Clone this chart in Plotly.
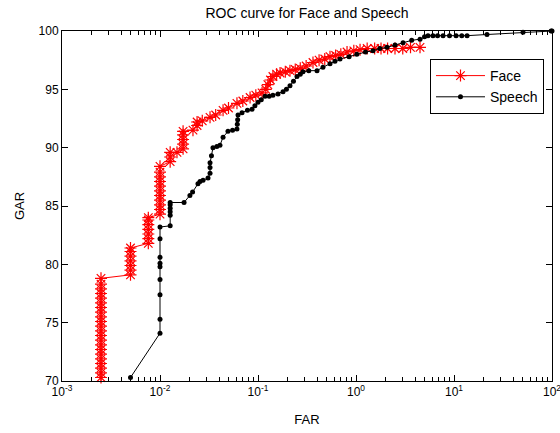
import plotly.graph_objects as go

# ---- data ----
face_far = ([0.0025] * 23 + [0.005] * 7 + [0.0076] * 7 + [0.01] * 11 + [0.0127] * 3 +
            [0.0149] + [0.0172] * 5 + [0.0217, 0.0239, 0.0239, 0.027, 0.0324, 0.037, 0.044,
             0.05, 0.061, 0.07, 0.083, 0.095, 0.11, 0.12, 0.126, 0.134, 0.142, 0.155,
             0.168, 0.19, 0.212, 0.24, 0.27, 0.31, 0.364, 0.42, 0.48, 0.543, 0.62, 0.70,
             0.81, 0.95, 1.1, 1.3, 1.55, 1.8, 2.1, 2.5, 3.0, 3.6, 4.5])
face_gar = [69.7, 70.3, 70.7, 71.1, 71.5, 71.9, 72.3, 72.7, 73.1, 73.5, 73.9, 74.3, 74.7,
            75.1, 75.5, 75.9, 76.3, 76.7, 77.1, 77.5, 77.9, 78.3, 78.8,
            79.1, 79.5, 79.9, 80.3, 80.7, 81.1, 81.4,
            81.8, 82.2, 82.6, 83.0, 83.4, 83.8, 84.0,
            84.3, 84.7, 85.1, 85.5, 85.9, 86.3, 86.7, 87.1, 87.5, 87.9, 88.4,
            88.8, 89.2, 89.6,
            89.6,
            89.9, 90.3, 90.7, 91.1, 91.4,
            91.5, 91.9, 92.2, 92.3, 92.6, 92.8, 93.2, 93.4, 93.8, 94.0, 94.3, 94.5, 94.7,
            95.0, 95.4, 95.8, 96.1, 96.3, 96.4, 96.5, 96.6, 96.7, 96.8, 97.0, 97.3, 97.5,
            97.6, 97.8, 97.9, 98.0, 98.2, 98.3, 98.4, 98.5, 98.5, 98.5, 98.5, 98.5, 98.5,
            98.6, 98.6]

speech_far = [0.005,
              0.01, 0.01, 0.01, 0.01, 0.01, 0.01, 0.01, 0.01, 0.01,
              0.0127, 0.0127, 0.0127, 0.0127, 0.0127, 0.0127,
              0.0176, 0.0202, 0.0215, 0.0244, 0.0256, 0.0275, 0.0309, 0.0324, 0.0324, 0.0324,
              0.0335, 0.0347, 0.038, 0.0409, 0.044, 0.0494, 0.055, 0.061, 0.0615, 0.062,
              0.0625, 0.0687, 0.078, 0.0869, 0.093, 0.1, 0.108, 0.118, 0.13, 0.142, 0.16,
              0.18, 0.195, 0.212, 0.23, 0.25, 0.27, 0.288, 0.33, 0.40, 0.46, 0.543, 0.61,
              0.687, 0.85, 1.02, 1.25, 1.49, 1.75, 2.07, 2.5, 3.02, 3.7, 4.5, 5.0, 5.43,
              6.1, 6.8, 7.73, 9.0, 10.5, 12.0, 13.6, 21.7, 50.6, 98, 100]
speech_gar = [70.3,
              74.1, 75.3, 77.4, 78.7, 79.8, 80.1, 80.6, 82.2, 83.2,
              83.3, 84.2, 84.5, 84.8, 85.1, 85.3,
              85.3, 85.9, 86.2, 86.9, 87.1, 87.2, 87.4, 87.8, 88.3, 88.7,
              89.3, 90.0, 90.1, 90.2, 90.9, 91.4, 91.5, 91.6, 92.0, 92.4,
              92.8, 93.0, 93.2, 93.3, 93.6, 93.9, 94.1, 94.4, 94.4, 94.5, 94.6,
              94.8, 95.0, 95.3, 95.7, 96.1, 96.3, 96.5, 96.6, 96.6, 96.9, 97.2, 97.4,
              97.6, 97.8, 98.0, 98.2, 98.3, 98.5, 98.6, 98.8, 99.0, 99.2, 99.3, 99.5, 99.6,
              99.6, 99.6, 99.6, 99.6, 99.6, 99.6, 99.6, 99.7, 99.9, 100, 100]

x_tickvals = [0.001, 0.01, 0.1, 1, 10, 100]
x_ticktext = ["10<sup>-3</sup>", "10<sup>-2</sup>", "10<sup>-1</sup>",
              "10<sup>0</sup>", "10<sup>1</sup>", "10<sup>2</sup>"]
y_tickvals = [70, 75, 80, 85, 90, 95, 100]

minor_vals = [m * d for d in [0.001, 0.01, 0.1, 1, 10] for m in range(2, 10)]

FONT = "Liberation Sans, Arial, sans-serif"

fig = go.Figure()
fig.add_trace(go.Scatter(
    x=face_far, y=face_gar, mode="lines+markers", name="Face",
    line=dict(color="#ff0000", width=1),
    marker=dict(symbol="asterisk-open", size=10, color="#ff0000",
                line=dict(color="#ff0000", width=1.2)),
    cliponaxis=False))
fig.add_trace(go.Scatter(
    x=speech_far, y=speech_gar, mode="lines+markers", name="Speech",
    line=dict(color="#000000", width=1),
    marker=dict(symbol="circle", size=5, color="#000000"),
    cliponaxis=False))

fig.update_layout(
    width=560, height=433,
    margin=dict(l=62, r=8, t=31, b=52),
    paper_bgcolor="white", plot_bgcolor="white",
    font=dict(family=FONT, size=12, color="black"),
    title=dict(text="ROC curve for Face and Speech", x=0.5, xref="paper",
               y=1 - 13 / 433, yref="container", yanchor="middle",
               font=dict(size=14, family=FONT)),
    showlegend=True,
    legend=dict(x=0.751, y=0.92, xanchor="left", yanchor="top",
                bgcolor="white", bordercolor="black", borderwidth=1,
                itemwidth=49,
                font=dict(size=14, family=FONT), tracegroupgap=0),
    xaxis=dict(type="log", range=[-3, 2], tickmode="array",
               tickvals=x_tickvals, ticktext=x_ticktext,
               ticks="inside", ticklen=6, tickcolor="black",
               showline=True, linecolor="black", linewidth=1, mirror="ticks",
               showgrid=False, zeroline=False, ticklabeloverflow="allow",
               automargin=False,
               minor=dict(tickmode="array", tickvals=minor_vals, ticks="inside",
                          ticklen=4, tickcolor="black", showgrid=False),
               title=dict(text="FAR", standoff=16, font=dict(size=13))),
    yaxis=dict(range=[70, 100], tickmode="array", tickvals=y_tickvals,
               ticks="inside", ticklen=6, tickcolor="black",
               showline=True, linecolor="black", linewidth=1, mirror="ticks",
               showgrid=False, zeroline=False, automargin=False,
               title=dict(text="GAR", standoff=11, font=dict(size=13))),
)

fig.write_html("out.html", config={"displayModeBar": False},
               post_script="document.body.style.margin='0px';")
